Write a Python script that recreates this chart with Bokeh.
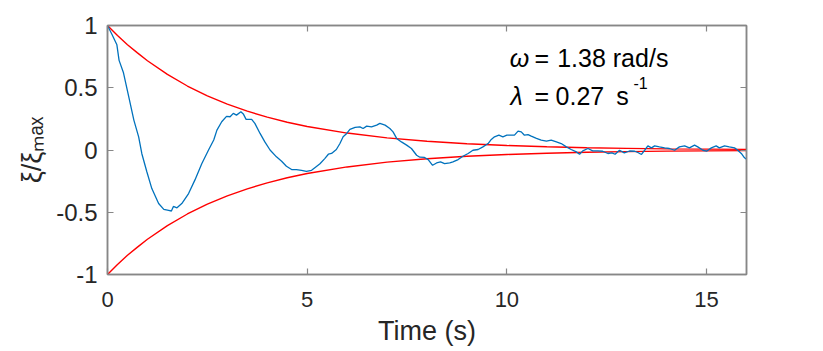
from bokeh.plotting import figure
from bokeh.models import Range1d, FixedTicker, LinearAxis, Label
from bokeh.embed import file_html
from bokeh.resources import INLINE

# ---- data ----
t_meas = [0.0, 0.11, 0.235, 0.29, 0.40, 0.53, 0.66, 0.78, 0.86, 0.985, 1.11, 1.28, 1.41, 1.53, 1.6, 1.65,
          1.74, 1.86, 2.03, 2.19, 2.36, 2.53, 2.66, 2.74, 2.86, 2.98, 3.07, 3.15, 3.23, 3.34, 3.4, 3.47,
          3.61, 3.69, 3.82, 3.94, 4.07, 4.23, 4.36, 4.48, 4.61, 4.73, 4.86, 4.98, 5.11, 5.2, 5.32, 5.44,
          5.53, 5.61, 5.73, 5.82, 5.9, 5.99, 6.07, 6.2, 6.32, 6.4, 6.49, 6.61, 6.74, 6.82, 6.95, 7.07,
          7.15, 7.24, 7.36, 7.49, 7.61, 7.74, 7.82, 7.94, 8.03, 8.14, 8.24, 8.34, 8.44, 8.57, 8.65, 8.78,
          8.9, 9.03, 9.15, 9.28, 9.4, 9.53, 9.61, 9.69, 9.8, 9.9, 10.0, 10.11, 10.19, 10.28, 10.36, 10.44,
          10.53, 10.61, 10.74, 10.86, 10.99, 11.11, 11.24, 11.36, 11.49, 11.61, 11.74, 11.82, 11.9, 12.03,
          12.15, 12.28, 12.4, 12.53, 12.63, 12.71, 12.82, 12.94, 13.07, 13.2, 13.28, 13.37, 13.45, 13.53,
          13.62, 13.7, 13.82, 13.95, 14.07, 14.2, 14.32, 14.45, 14.57, 14.7, 14.78, 14.91, 15.0, 15.12,
          15.24, 15.32, 15.45, 15.57, 15.7, 15.78, 15.87, 15.95, 16.0]
xi_meas = [1.0, 0.93, 0.845, 0.72, 0.62, 0.43, 0.24, 0.105, -0.03, -0.175, -0.31, -0.43, -0.477, -0.485,
           -0.49, -0.453, -0.464, -0.43, -0.35, -0.24, -0.11, 0.0, 0.08, 0.16, 0.227, 0.27, 0.267, 0.294,
           0.28, 0.307, 0.29, 0.246, 0.246, 0.214, 0.133, 0.065, 0.0, -0.055, -0.09, -0.13, -0.157, -0.157,
           -0.163, -0.171, -0.163, -0.14, -0.11, -0.069, -0.034, -0.028, 0.004, 0.052, 0.106, 0.133, 0.165,
           0.181, 0.186, 0.173, 0.192, 0.186, 0.2, 0.214, 0.2, 0.173, 0.146, 0.093, 0.065, 0.039, 0.012,
           -0.042, -0.058, -0.06, -0.077, -0.123, -0.104, -0.096, -0.109, -0.104, -0.096, -0.077, -0.05,
           -0.028, -0.002, 0.004, 0.025, 0.052, 0.085, 0.106, 0.119, 0.106, 0.119, 0.119, 0.119, 0.152,
           0.146, 0.119, 0.123, 0.111, 0.093, 0.079, 0.071, 0.079, 0.065, 0.052, 0.025, 0.004, -0.015,
           -0.034, -0.007, 0.012, -0.007, -0.007, -0.01, -0.028, -0.023, -0.034, -0.002, -0.023, -0.008,
           -0.01, -0.02, -0.036, -0.002, 0.033, 0.017, 0.033, 0.025, 0.017, 0.012, -0.002, 0.025, 0.033,
           0.017, 0.039, 0.025, -0.002, -0.01, 0.017, 0.033, 0.017, 0.033, 0.025, 0.017, -0.002, -0.028,
           -0.063, -0.075]

t_env = [0, 0.25, 0.5, 0.75, 1, 1.5, 2, 2.5, 3, 3.5, 4, 4.5, 5, 6, 7, 8, 9, 10, 11, 12, 13, 14, 15, 16]
upper_env = [1.0, 0.92, 0.846, 0.78, 0.717, 0.607, 0.514, 0.435, 0.368, 0.312, 0.264, 0.223, 0.189,
             0.136, 0.097, 0.070, 0.050, 0.036, 0.026, 0.018, 0.013, 0.009, 0.007, 0.005]
lower_env = [-1.0, -0.92, -0.846, -0.78, -0.717, -0.607, -0.514, -0.435, -0.368, -0.312, -0.264, -0.223,
             -0.189, -0.136, -0.097, -0.070, -0.050, -0.036, -0.026, -0.018, -0.013, -0.009, -0.007, -0.005]

x_ticks = [0, 5, 10, 15]
y_ticks = [-1, -0.5, 0, 0.5, 1]
y_tick_labels = ["-1", "-0.5", "0", "0.5", "1"]

FONT = "Liberation Sans"
AX_COL = "#878787"
TXT_COL = "#262626"

p = figure(width=823, height=351, output_backend="svg", toolbar_location=None,
           x_range=Range1d(0, 16), y_range=Range1d(-1, 1),
           min_border_left=107, min_border_right=77, min_border_top=25, min_border_bottom=77,
           x_axis_location="below", y_axis_location="left")
p.background_fill_color = "white"
p.border_fill_color = "white"
p.outline_line_color = AX_COL
p.outline_line_width = 1.5
p.xgrid.visible = False
p.ygrid.visible = False

p.line(t_env, upper_env, line_color="#FF0000", line_width=1.4)
p.line(t_env, lower_env, line_color="#FF0000", line_width=1.4)
p.line(t_meas, xi_meas, line_color="#0072BD", line_width=1.3)

def style_axis(ax, show_labels=True):
    ax.axis_line_color = AX_COL
    ax.axis_line_width = 1.5
    ax.major_tick_line_color = AX_COL
    ax.major_tick_line_width = 1.2
    ax.major_tick_in = 6
    ax.major_tick_out = 0
    ax.minor_tick_line_color = None
    ax.major_label_text_font = FONT
    ax.major_label_text_color = TXT_COL
    if not show_labels:
        ax.major_label_text_font_size = "0px"
        ax.major_label_standoff = 0

xa = p.xaxis[0]
xa.ticker = FixedTicker(ticks=x_ticks)
style_axis(xa)
xa.major_label_text_font_size = "22px"
xa.major_label_standoff = 17
xa.axis_label = "Time (s)"
xa.axis_label_text_font = FONT
xa.axis_label_text_font_size = "27px"
xa.axis_label_text_font_style = "normal"
xa.axis_label_text_color = TXT_COL
xa.axis_label_standoff = 6

ya = p.yaxis[0]
ya.ticker = FixedTicker(ticks=y_ticks)
ya.major_label_overrides = {v: s for v, s in zip(y_ticks, y_tick_labels)}
style_axis(ya)
ya.major_label_text_font_size = "24px"
ya.major_label_standoff = 10
ya.axis_label = "ξ/ξₘₐₓ"
ya.axis_label_text_font = FONT
ya.axis_label_text_font_size = "27px"
ya.axis_label_text_font_style = "normal"
ya.axis_label_text_color = TXT_COL
ya.axis_label_standoff = 6

top_ax = LinearAxis(ticker=FixedTicker(ticks=x_ticks))
style_axis(top_ax, show_labels=False)
p.add_layout(top_ax, "above")
right_ax = LinearAxis(ticker=FixedTicker(ticks=y_ticks))
style_axis(right_ax, show_labels=False)
p.add_layout(right_ax, "right")

# annotation texts (pieces placed like the reference's TeX spacing)
def note(x, y, text, size="25px", style="normal"):
    p.add_layout(Label(x=x, y=y, text=text, text_font=FONT, text_font_style=style,
                       text_font_size=size, text_color="black", text_baseline="alphabetic"))

note(10.07, 0.74, "ω", style="italic")
note(10.69, 0.74, "=")
note(11.26, 0.74, "1.38 rad/s")
note(10.09, 0.435, "λ", style="italic")
note(10.69, 0.435, "=")
note(11.22, 0.435, "0.27")
note(12.74, 0.435, "s")
note(13.17, 0.54, "-1", size="16px")

open("out.html", "w").write(file_html(p, INLINE))
